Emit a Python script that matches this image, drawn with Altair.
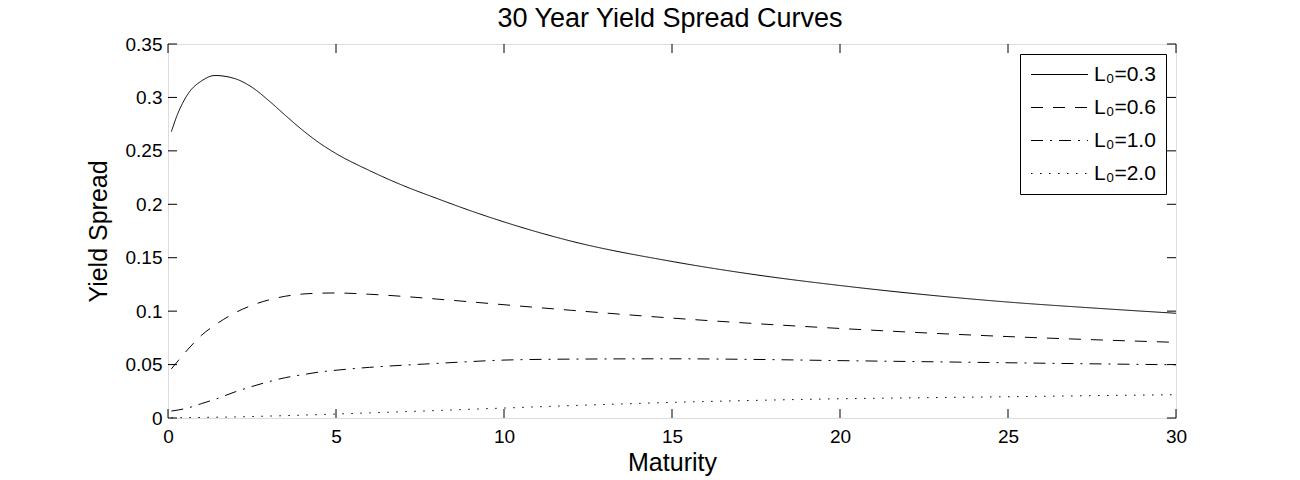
import altair as alt
import pandas as pd

maturity = [0.1, 0.3, 0.6, 1.0, 1.4, 2.0, 2.5, 3.0, 3.5, 4.0, 4.5, 5, 6, 7, 8, 9, 10,
            12, 15, 17.5, 20, 22.5, 25, 27.5, 30]

spread_03 = [0.268, 0.2855, 0.3035, 0.3155, 0.3205, 0.3175, 0.3095, 0.297, 0.283, 0.2695,
             0.2575, 0.2475, 0.2315, 0.2175, 0.2055, 0.194, 0.1835, 0.1655, 0.1465, 0.134,
             0.124, 0.1155, 0.1085, 0.103, 0.098]
spread_06 = [0.046, 0.0535, 0.0645, 0.0775, 0.087, 0.0985, 0.1055, 0.1105, 0.114, 0.116,
             0.1168, 0.117, 0.1158, 0.1138, 0.1113, 0.1087, 0.106, 0.1008, 0.0935, 0.0883,
             0.0838, 0.0797, 0.0762, 0.0733, 0.0708]
spread_10 = [0.0065, 0.0075, 0.0095, 0.0135, 0.0175, 0.0245, 0.0295, 0.034, 0.0378, 0.0405,
             0.043, 0.0447, 0.0474, 0.0494, 0.0511, 0.0528, 0.0542, 0.0551, 0.0554, 0.0548,
             0.0537, 0.0527, 0.0517, 0.0507, 0.0498]
spread_20 = [0.0002, 0.0003, 0.0004, 0.0005, 0.0007, 0.001, 0.0014, 0.0018, 0.0022, 0.0027,
             0.0032, 0.0037, 0.0048, 0.0059, 0.007, 0.0082, 0.0093, 0.0116, 0.0146, 0.0165,
             0.018, 0.019, 0.0199, 0.0209, 0.0218]

series_labels = ["L₀=0.3", "L₀=0.6", "L₀=1.0", "L₀=2.0"]
dash_styles = [[1, 0], [12, 10], [12, 7, 2, 7], [1.5, 7.5]]

x_ticks = [0, 5, 10, 15, 20, 25, 30]
y_ticks = [0, 0.05, 0.1, 0.15, 0.2, 0.25, 0.3, 0.35]
chart_title = ["30 Year Yield Spread Curves"]

rows = []
for lab, vals in zip(series_labels, [spread_03, spread_06, spread_10, spread_20]):
    for m, v in zip(maturity, vals):
        rows.append({"Maturity": m, "Spread": v, "series": lab})
df = pd.DataFrame(rows)
xt = pd.DataFrame({"t": x_ticks})
yt = pd.DataFrame({"t": y_ticks})
tt = pd.DataFrame({"title": chart_title})

W, H = 1008, 374
FONT = "Liberation Sans"

xscale = alt.Scale(domain=[0, 30], nice=False, zero=False)
yscale = alt.Scale(domain=[0, 0.35], nice=False)

lines = alt.Chart(df).mark_line(color="black", strokeWidth=1, interpolate="monotone").encode(
    x=alt.X("Maturity:Q", scale=xscale,
            axis=alt.Axis(values=x_ticks, title="Maturity", ticks=False, domain=False, grid=False,
                          labelFontSize=19, titleFontSize=25, labelPadding=9, titlePadding=4,
                          labelColor="black", titleColor="black", titleFontWeight="normal",
                          labelFont=FONT, titleFont=FONT, labelFlush=False, format="~g")),
    y=alt.Y("Spread:Q", scale=yscale,
            axis=alt.Axis(values=y_ticks, title="Yield Spread", ticks=False, domain=False, grid=False,
                          labelFontSize=19, titleFontSize=25, labelPadding=6, titlePadding=14,
                          labelColor="black", titleColor="black", titleFontWeight="normal",
                          labelFont=FONT, titleFont=FONT, labelFlush=False, format="~g")),
    strokeDash=alt.StrokeDash("series:N",
                              scale=alt.Scale(domain=series_labels, range=dash_styles),
                              sort=series_labels,
                              legend=alt.Legend(title=None, orient="top-right", offset=10,
                                                strokeColor="black", fillColor="white", padding=10,
                                                symbolType="M-1,0L5,0", symbolSize=361,
                                                symbolStrokeWidth=1, symbolStrokeColor="black",
                                                labelFontSize=21, labelFont=FONT, labelColor="black",
                                                labelOffset=43, rowPadding=11, cornerRadius=0)),
)

tick_len = 9
bx = alt.Chart(xt).mark_rule(color="black", strokeWidth=1).encode(
    x=alt.X("t:Q", scale=xscale), y=alt.value(H), y2=alt.value(H - tick_len))
tx = alt.Chart(xt).mark_rule(color="black", strokeWidth=1).encode(
    x=alt.X("t:Q", scale=xscale), y=alt.value(0), y2=alt.value(tick_len))
ly = alt.Chart(yt).mark_rule(color="black", strokeWidth=1).encode(
    y=alt.Y("t:Q", scale=yscale), x=alt.value(0), x2=alt.value(tick_len))
ry = alt.Chart(yt).mark_rule(color="black", strokeWidth=1).encode(
    y=alt.Y("t:Q", scale=yscale), x=alt.value(W), x2=alt.value(W - tick_len))

title_text = alt.Chart(tt).mark_text(fontSize=27, font=FONT, color="black", align="center",
                                     baseline="alphabetic").encode(
    text="title:N", x=alt.value(W / 2 - 2), y=alt.value(-17))

chart = alt.layer(lines, bx, tx, ly, ry, title_text).properties(
    width=W, height=H,
    autosize=alt.AutoSizeParams(type="none"),
    padding={"left": 160, "top": 36, "right": 100, "bottom": 60},
).configure_view(stroke="black", strokeWidth=1).configure(background="white")

chart.save("out.html", embed_options={"renderer": "svg", "actions": False})
